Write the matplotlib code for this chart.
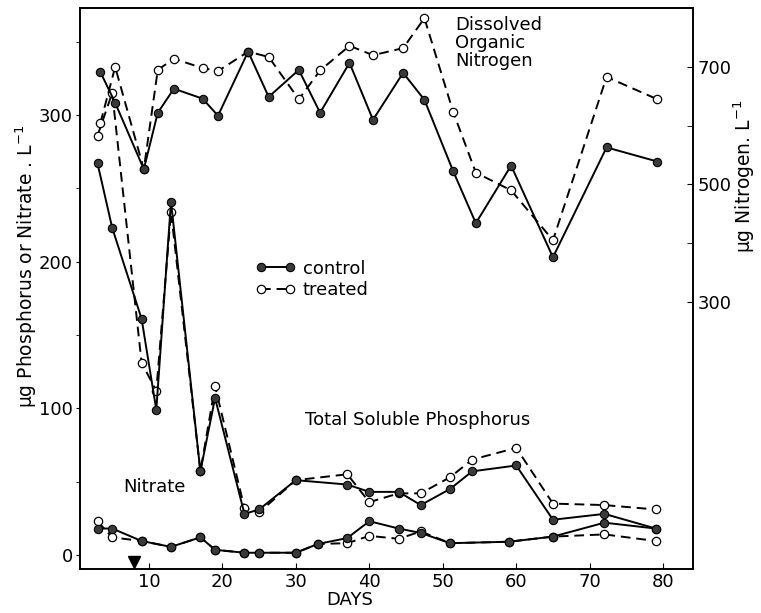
import matplotlib.pyplot as plt
from matplotlib.lines import Line2D

plt.rcParams['font.family'] = ['DejaVu Sans']

# Dissolved organic nitrogen (right axis)
don_days = [3.4, 5.4, 9.3, 11.2, 13.4, 17.3, 19.4, 23.5, 26.3, 30.4, 33.3, 37.3, 40.5,
            44.6, 47.5, 51.4, 54.5, 59.3, 65.0, 72.3, 79.2]
don_control = [691, 639, 526, 622, 663, 646, 617, 726, 649, 695, 622, 707, 610,
               690, 644, 523, 434, 532, 376, 563, 539]
don_treated = [605, 700, 526, 695, 714, 698, 693, 726, 717, 645, 694, 736, 720,
               732, 783, 624, 520, 490, 405, 683, 645]

# Total soluble phosphorus (left axis)
tsp_days = [3, 5, 9, 11, 13, 17, 19, 23, 25, 30, 37, 40, 44, 47, 51, 54, 60, 65, 72, 79]
tsp_control = [267, 223, 161, 99, 241, 57, 107, 28, 31, 51, 48, 43, 43, 34, 45, 57, 61, 24, 28, 18]
tsp_treated = [286, 315, 131, 112, 234, 57, 115, 32, 29, 51, 55, 36, 42, 42, 53, 65, 73, 35, 34, 31]

# Nitrate (left axis)
no3_days = [3, 5, 9, 13, 17, 19, 23, 25, 30, 33, 37, 40, 44, 47, 51, 59, 65, 72, 79]
no3_control = [18, 18, 9.5, 5.5, 12, 3.5, 1.5, 1.5, 1.5, 7.5, 11.5, 23, 18, 15, 8, 9, 12.5, 22, 18]
no3_treated = [23, 12, 9.5, 5.5, 12, 3.5, 1.5, 1.5, 1.5, 7.5, 8, 13, 11, 16, 8, 9, 12.5, 14, 9.5]

treatment_day = 8

x_ticks = [10, 20, 30, 40, 50, 60, 70, 80]
left_ticks = [0, 100, 200, 300]
right_ticks = [300, 500, 700]

ctrl_style = dict(color='black', lw=1.4, marker='o', ms=6, mfc='#3a3a3a', mec='black', mew=0.8)
trt_style = dict(color='black', lw=1.4, ls=(0, (5, 3)), marker='o', ms=6, mfc='white',
                 mec='black', mew=0.9)

fs = 13

fig = plt.figure(figsize=(7.61, 6.13), dpi=100)
ax = fig.add_axes([0.105, 0.072, 0.806, 0.915])
ax2 = ax.twinx()

ax.plot(tsp_days, tsp_treated, **trt_style)
ax.plot(tsp_days, tsp_control, **ctrl_style)
ax.plot(no3_days, no3_treated, **trt_style)
ax.plot(no3_days, no3_control, **ctrl_style)
ax2.plot(don_days, don_treated, **trt_style)
ax2.plot(don_days, don_control, **ctrl_style)

ax.set_xlim(0.6, 84.1)
ax.set_ylim(-9.5, 373)
ax2.set_ylim(-154.5, 800.4)

ax.set_xticks(x_ticks)
ax.set_yticks(left_ticks)
ax.set_yticks([50, 150, 250, 350], minor=True)
ax.tick_params(axis='x', direction='in', length=4, labelsize=fs, pad=3)
ax.tick_params(axis='y', direction='out', length=3, labelsize=fs, pad=2)
ax.tick_params(axis='y', which='minor', direction='out', length=3)

ax2.set_yticks(right_ticks)
ax2.set_yticks([400, 600], minor=True)
ax2.tick_params(axis='y', direction='in', length=4, labelsize=fs, pad=3)
ax2.tick_params(axis='y', which='minor', direction='in', length=4)

for a in (ax, ax2):
    for s in a.spines.values():
        s.set_linewidth(1.2)

ax.set_xlabel('DAYS', fontsize=fs)
ax.xaxis.set_label_coords(0.44, -0.04)
ax.set_ylabel('µg Phosphorus or Nitrate . L$^{-1}$', fontsize=13.5)
ax.yaxis.set_label_coords(-0.067, 0.54)
ax2.set_ylabel('µg Nitrogen. L$^{-1}$', fontsize=13.5)
ax2.yaxis.set_label_coords(1.062, 0.70)

ax.text(0.612, 0.985, 'Dissolved\nOrganic\nNitrogen', transform=ax.transAxes,
        fontsize=fs, va='top', ha='left', linespacing=1.0)
ax.text(0.367, 0.266, 'Total Soluble Phosphorus', transform=ax.transAxes,
        fontsize=fs, va='center', ha='left')
ax.text(0.07, 0.146, 'Nitrate', transform=ax.transAxes, fontsize=fs, va='center', ha='left')

# treatment marker on the day axis
ax.plot([treatment_day], [0.012], marker='v', color='black', ms=9,
        transform=ax.get_xaxis_transform(), clip_on=False)

handles = [Line2D([], [], **ctrl_style), Line2D([], [], **trt_style)]
ax.legend(handles, ['control', 'treated'], loc='upper left', bbox_to_anchor=(0.26, 0.58),
          frameon=False, fontsize=fs, numpoints=2, handlelength=2.2, labelspacing=0.2,
          handletextpad=0.4)

fig.savefig('out.png', dpi=100)
